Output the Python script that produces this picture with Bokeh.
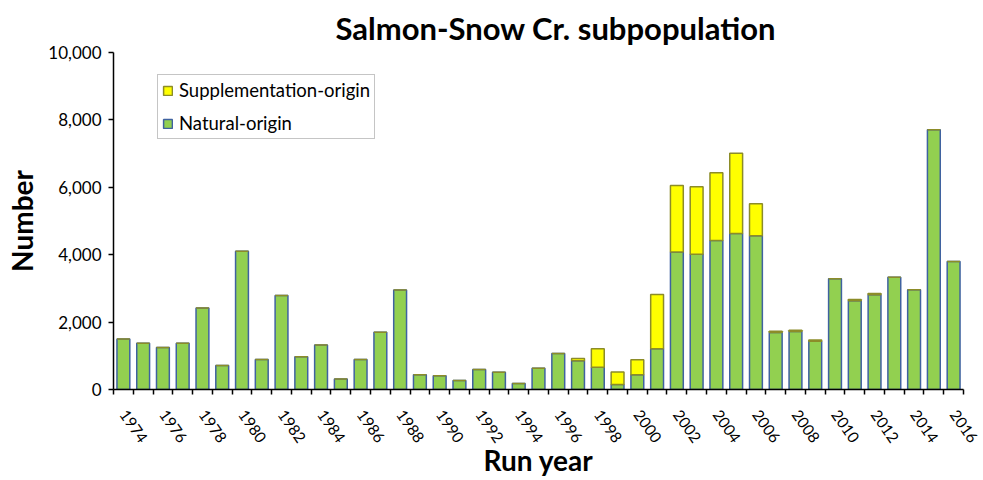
from bokeh.plotting import figure
from bokeh.models import Range1d, FixedTicker, NumeralTickFormatter, Legend, LegendItem, ColumnDataSource
from bokeh.embed import file_html
from bokeh.resources import INLINE

years = list(range(1974, 2017))
natural = [1500, 1370, 1250, 1370, 2420, 710, 4100, 890, 2790, 970, 1320, 310, 890, 1700, 2950,
           440, 410, 270, 590, 510, 180, 630, 1070, 850, 660, 150, 440, 1210, 4080, 4010, 4420,
           4630, 4560, 1690, 1720, 1430, 3290, 2630, 2810, 3330, 2960, 7710, 3800]
supplementation = [0, 0, 0, 0, 0, 0, 0, 0, 0, 0, 0, 0, 0, 0, 0,
                   0, 0, 0, 0, 0, 0, 0, 0, 70, 550, 370, 440, 1610, 1970, 2010, 2010,
                   2380, 950, 40, 40, 40, 0, 40, 40, 0, 0, 0, 0]
label_years = list(range(1974, 2017, 2))
y_ticks = [0, 2000, 4000, 6000, 8000, 10000]

FONT = "Lato"

src = ColumnDataSource(dict(year=years, natural=natural, supplementation=supplementation))

p = figure(width=983, height=480, x_range=Range1d(1973.5, 2016.5), y_range=Range1d(0, 10000),
           output_backend="svg", toolbar_location=None,
           min_border_left=113, min_border_right=20, min_border_top=52, min_border_bottom=90)

rs = p.vbar_stack(["natural", "supplementation"], x="year", width=0.65, source=src,
                  fill_color=["#92D050", "#FFFF00"], line_color=["#3F62A0", "#8C8C28"],
                  line_width=1.5)

p.outline_line_color = None
p.xgrid.visible = False
p.ygrid.visible = False

p.title.text = "Salmon-Snow Cr. subpopulation"
p.title.align = "left"
p.title.offset = 222
p.title.vertical_align = "bottom"
p.title.text_font = FONT
p.title.text_font_size = "31px"
p.title.text_font_style = "bold"
p.title.text_color = "black"
p.title.standoff = 12

xa = p.xaxis[0]
xa.ticker = FixedTicker(ticks=label_years, minor_ticks=[y + 0.5 for y in range(1973, 2017)])
xa.major_tick_out = 0
xa.major_tick_in = 0
xa.minor_tick_out = 5
xa.minor_tick_in = 0
xa.minor_tick_line_color = "black"
xa.minor_tick_line_width = 1.5
xa.axis_line_color = "black"
xa.axis_line_width = 1.5
xa.major_label_orientation = -0.96
xa.major_label_text_font = FONT
xa.major_label_text_font_size = "15.5px"
xa.major_label_text_color = "black"
xa.major_label_standoff = 17
xa.axis_label = "Run year"
xa.axis_label_text_font = FONT
xa.axis_label_text_font_size = "28px"
xa.axis_label_text_font_style = "bold"
xa.axis_label_text_color = "black"
xa.axis_label_standoff = -7

ya = p.yaxis[0]
ya.ticker = FixedTicker(ticks=y_ticks)
ya.formatter = NumeralTickFormatter(format="0,0")
ya.major_tick_out = 5
ya.major_tick_in = 0
ya.major_tick_line_color = "black"
ya.major_tick_line_width = 1.5
ya.minor_tick_out = 0
ya.minor_tick_in = 0
ya.axis_line_color = "black"
ya.axis_line_width = 1.5
ya.major_label_text_font = FONT
ya.major_label_text_font_size = "17px"
ya.major_label_text_color = "black"
ya.major_label_standoff = 7
ya.axis_label = "Number"
ya.axis_label_text_font = FONT
ya.axis_label_text_font_size = "28px"
ya.axis_label_text_font_style = "bold"
ya.axis_label_text_color = "black"
ya.axis_label_standoff = 6

legend = Legend(items=[LegendItem(label="Supplementation-origin", renderers=[rs[1]]),
                       LegendItem(label="Natural-origin", renderers=[rs[0]])],
                location=(44, 250), orientation="vertical",
                label_text_font=FONT, label_text_font_size="18.5px", label_text_color="black",
                glyph_width=11, glyph_height=11, label_height=22, spacing=11, padding=4, margin=0,
                label_standoff=6, border_line_color="#8C8C8C", border_line_width=1,
                background_fill_alpha=1)
p.add_layout(legend, "center")

open("out.html", "w").write(file_html(p, INLINE))
